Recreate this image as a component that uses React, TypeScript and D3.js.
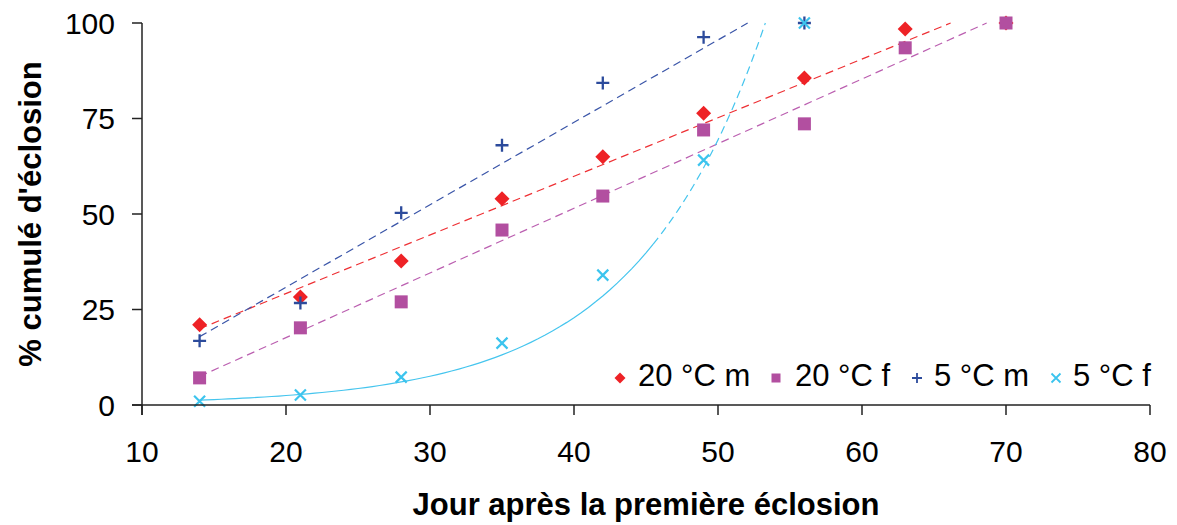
import React from 'react';
import * as d3 from 'd3';

const days = [14, 21, 28, 35, 42, 49, 56, 63, 70];
const m20 = [21, 28.3, 37.7, 54, 65, 76.4, 85.6, 98.4, 100];
const f20 = [7.1, 20.2, 27, 45.8, 54.7, 72, 73.6, 93.5, 100];
const m5 = [16.8, 26.7, 50.3, 68, 84.3, 96.3, 100];
const f5 = [1, 2.6, 7.3, 16.2, 34, 64.1, 100];
const xTicks = [10, 20, 30, 40, 50, 60, 70, 80];
const yTicks = [0, 25, 50, 75, 100];
const legendLabels = ['20 °C m', '20 °C f', '5 °C m', '5 °C f'];

const W = 1177;
const H = 525;
const margin = { top: 23, right: 27, bottom: 120, left: 142 };
const FONT = '"Liberation Sans", Arial, Helvetica, sans-serif';

const RED = '#ee2226';
const PURPLE = '#b24fa0';
const BLUE = '#2c4b9c';
const CYAN = '#3cc4ee';

// least squares on (x, y)
const linFit = (xs: number[], ys: number[]) => {
  const mx = d3.mean(xs)!;
  const my = d3.mean(ys)!;
  let sxy = 0, sxx = 0;
  xs.forEach((x, i) => {
    sxy += (x - mx) * (ys[i] - my);
    sxx += (x - mx) * (x - mx);
  });
  const b = sxy / sxx;
  return { a: my - b * mx, b };
};

const Diamond = ({ cx, cy, r, fill }: any) => (
  <path d={`M${cx},${cy - r}L${cx + r},${cy}L${cx},${cy + r}L${cx - r},${cy}Z`} fill={fill} />
);
const Square = ({ cx, cy, s, fill }: any) => (
  <rect x={cx - s / 2} y={cy - s / 2} width={s} height={s} fill={fill} />
);
const Plus = ({ cx, cy, r, stroke, sw }: any) => (
  <path d={`M${cx - r},${cy}H${cx + r}M${cx},${cy - r}V${cy + r}`} stroke={stroke} strokeWidth={sw} fill="none" />
);
const Cross = ({ cx, cy, r, stroke, sw }: any) => (
  <path d={`M${cx - r},${cy - r}L${cx + r},${cy + r}M${cx - r},${cy + r}L${cx + r},${cy - r}`} stroke={stroke} strokeWidth={sw} fill="none" />
);

const App = () => {
  const iw = W - margin.left - margin.right;
  const ih = H - margin.top - margin.bottom;
  const x = d3.scaleLinear().domain([10, 80]).range([margin.left, margin.left + iw]);
  const y = d3.scaleLinear().domain([0, 100]).range([margin.top + ih, margin.top]);

  const line = d3.line<[number, number]>().x(d => x(d[0])).y(d => y(d[1]));

  const linTrend = (xs: number[], ys: number[]) => {
    const { a, b } = linFit(xs, ys);
    const xEnd = Math.min((100 - a) / b, xs[xs.length - 1]);
    return line([[xs[0], a + b * xs[0]], [xEnd, a + b * xEnd]]);
  };

  // exponential trendline for 5 °C f
  const d5 = days.slice(0, f5.length);
  const ef = linFit(d5, f5.map(v => Math.log(v)));
  const expY = (t: number) => Math.exp(ef.a + ef.b * t);
  const xHit = (Math.log(100) - ef.a) / ef.b;
  const brk = 45.5;
  const solidPts: [number, number][] = d3.range(14, brk + 0.01, 0.5).map(t => [t, expY(t)]);
  const dashPts: [number, number][] = d3.range(brk, xHit, 0.25).map(t => [t, expY(t)] as [number, number]).concat([[xHit, 100]]);

  const m5days = days.slice(0, m5.length);

  const legendY = 378;
  const legendItems = [
    { mx: 620, tx: 638, label: legendLabels[0] },
    { mx: 776, tx: 795, label: legendLabels[1] },
    { mx: 917, tx: 934, label: legendLabels[2] },
    { mx: 1056, tx: 1073, label: legendLabels[3] },
  ];

  return (
    <svg width={W} height={H} style={{ position: 'absolute', left: 0, top: 0, background: '#fff' }} fontFamily={FONT}>
      <rect width={W} height={H} fill="#fff" />

      {/* trend lines */}
      <g fill="none" strokeWidth={1.2}>
        <path d={linTrend(days, m20)!} stroke="#ee3034" strokeDasharray="8,5" />
        <path d={linTrend(days, f20)!} stroke="#bb5fb0" strokeDasharray="8,5" />
        <path d={linTrend(m5days, m5)!} stroke="#3a55a8" strokeDasharray="8,5" />
        <path d={line(solidPts)!} stroke="#45c5ee" />
        <path d={line(dashPts)!} stroke="#45c5ee" strokeDasharray="8,5" />
      </g>

      {/* markers */}
      {days.map((d, i) => (
        <Diamond key={'r' + i} cx={x(d)} cy={y(m20[i])} r={7.5} fill={RED} />
      ))}
      {days.map((d, i) => (
        <Square key={'p' + i} cx={x(d)} cy={y(f20[i])} s={13} fill={PURPLE} />
      ))}
      {m5days.map((d, i) => (
        <Plus key={'b' + i} cx={x(d)} cy={y(m5[i])} r={6.5} stroke={BLUE} sw={2.3} />
      ))}
      {d5.map((d, i) => (
        <Cross key={'c' + i} cx={x(d)} cy={y(f5[i])} r={5.5} stroke={CYAN} sw={2.2} />
      ))}

      {/* axes */}
      <g stroke="#222" strokeWidth={1.5} fill="none">
        <line x1={margin.left} x2={margin.left} y1={margin.top} y2={margin.top + ih + 10} />
        <line x1={margin.left - 10} x2={margin.left + iw} y1={margin.top + ih} y2={margin.top + ih} />
        {yTicks.map(t => (
          <line key={'yt' + t} x1={margin.left - 10} x2={margin.left} y1={y(t)} y2={y(t)} />
        ))}
        {xTicks.map(t => (
          <line key={'xt' + t} x1={x(t)} x2={x(t)} y1={margin.top + ih} y2={margin.top + ih + 10} />
        ))}
      </g>
      <g fontSize={30} fill="#000">
        {yTicks.map(t => (
          <text key={'yl' + t} x={margin.left - 27} y={y(t)} dy="0.36em" textAnchor="end">{t}</text>
        ))}
        {xTicks.map(t => (
          <text key={'xl' + t} x={x(t)} y={462} textAnchor="middle">{t}</text>
        ))}
      </g>

      {/* axis titles */}
      <text x={margin.left + iw / 2} y={515} textAnchor="middle" fontSize={31} fontWeight="bold">
        Jour après la première éclosion
      </text>
      <text transform={`translate(41,${margin.top + ih / 2}) rotate(-90)`} textAnchor="middle" fontSize={31} fontWeight="bold">
        % cumulé d'éclosion
      </text>

      {/* legend */}
      <g>
        <Diamond cx={legendItems[0].mx} cy={legendY} r={5.5} fill={RED} />
        <Square cx={legendItems[1].mx} cy={legendY} s={9} fill={PURPLE} />
        <Plus cx={legendItems[2].mx} cy={legendY} r={5} stroke={BLUE} sw={1.8} />
        <Cross cx={legendItems[3].mx} cy={legendY} r={4.5} stroke={CYAN} sw={1.8} />
        {legendItems.map(it => (
          <text key={it.label} x={it.tx} y={386} fontSize={31} fill="#000">{it.label}</text>
        ))}
      </g>
    </svg>
  );
};

export default App;
